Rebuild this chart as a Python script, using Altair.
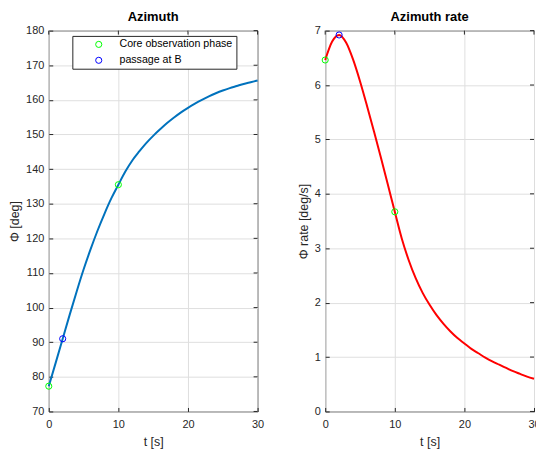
import altair as alt
import pandas as pd

# ---- data ----
t_s = list(range(31))
azimuth_deg = [77.3, 84.1, 91.0, 97.9, 104.6, 111.0, 116.8, 122.2, 127.1, 131.6,
               135.5, 139.3, 142.5, 145.1, 147.5, 149.6, 151.5, 153.3, 154.9, 156.4,
               157.7, 158.9, 160.0, 161.0, 161.9, 162.7, 163.4, 164.0, 164.6, 165.1,
               165.6]
rate_deg_s = [6.46, 6.80, 6.92, 6.78, 6.47, 6.07, 5.62, 5.15, 4.67, 4.17,
              3.67, 3.18, 2.78, 2.45, 2.18, 1.96, 1.77, 1.61, 1.47, 1.35,
              1.25, 1.15, 1.07, 0.99, 0.92, 0.86, 0.80, 0.74, 0.69, 0.64,
              0.60]

core_t = [0, 10]
core_az = [77.3, 135.5]
core_rate = [6.46, 3.67]
pass_t = [2]
pass_az = [91.0]
pass_rate = [6.92]

series_names = ["Core observation phase", "passage at B"]
series_colors = ["#00ff00", "#0000ff"]

x_ticks = [0, 10, 20, 30]
az_ticks = [70, 80, 90, 100, 110, 120, 130, 140, 150, 160, 170, 180]
rate_ticks = [0, 1, 2, 3, 4, 5, 6, 7]

curve = pd.DataFrame({"t": t_s, "az": azimuth_deg, "rate": rate_deg_s})
marks = pd.DataFrame({
    "t": core_t + pass_t,
    "az": core_az + pass_az,
    "rate": core_rate + pass_rate,
    "series": [series_names[0]] * len(core_t) + [series_names[1]] * len(pass_t),
})

FONT = "Liberation Sans"
DARK = "#262626"
GRID = "#dfdfdf"
W, H = 210, 383
TICK = 4


def panel(ycol, ydomain, yticks, ytitle, title, line_color, show_legend):
    xscale = alt.Scale(domain=[0, 30], nice=False)
    yscale = alt.Scale(domain=ydomain, nice=False, zero=False)
    x_axis = alt.Axis(orient="bottom", values=x_ticks, title="t [s]", grid=True,
                      domain=False, offset=-TICK, tickSize=TICK, labelPadding=7,
                      labelFlush=False, titlePadding=6, minExtent=0)
    y_axis = alt.Axis(orient="left", values=yticks, title=ytitle, grid=True,
                      domain=False, offset=-TICK, tickSize=TICK, labelPadding=5,
                      titlePadding=4, minExtent=0)
    if show_legend:
        legend = alt.Legend(
            orient="none", legendX=23.7, legendY=5.3, title=None,
            strokeColor=DARK, fillColor="white", padding=3.2,
            symbolType="circle", symbolSize=38, symbolStrokeWidth=1,
            symbolOffset=18, labelOffset=15.5,
            labelFont=FONT, labelFontSize=10.7, labelColor="black",
            rowPadding=4.0,
        )
    else:
        legend = None

    line = alt.Chart(curve).mark_line(
        color=line_color, strokeWidth=2, interpolate="monotone"
    ).encode(
        x=alt.X("t:Q", scale=xscale, axis=x_axis),
        y=alt.Y(f"{ycol}:Q", scale=yscale, axis=y_axis),
    )

    # inward ticks on the top and right edges (MATLAB box style)
    top_ticks = alt.Chart(pd.DataFrame({"t": x_ticks})).mark_rule(
        color=DARK, strokeWidth=1
    ).encode(
        x=alt.X("t:Q", scale=xscale, axis=x_axis),
        y=alt.value(0), y2=alt.value(TICK),
    )
    right_ticks = alt.Chart(pd.DataFrame({ycol: yticks})).mark_rule(
        color=DARK, strokeWidth=1
    ).encode(
        y=alt.Y(f"{ycol}:Q", scale=yscale, axis=y_axis),
        x=alt.value(W - TICK), x2=alt.value(W),
    )

    pts = alt.Chart(marks).mark_point(
        shape="circle", filled=False, size=38, strokeWidth=1, opacity=1
    ).encode(
        x=alt.X("t:Q", scale=xscale, axis=x_axis),
        y=alt.Y(f"{ycol}:Q", scale=yscale, axis=y_axis),
        stroke=alt.Stroke("series:N",
                          scale=alt.Scale(domain=series_names, range=series_colors),
                          legend=legend),
    )

    return alt.layer(line, top_ticks, right_ticks, pts).properties(
        width=W, height=H,
        title=alt.TitleParams(title, fontSize=13, fontWeight="bold", font=FONT,
                              color="black", offset=-9, baseline="alphabetic",
                              anchor="middle"),
    )


left = panel("az", [70, 180], az_ticks, "Φ [deg]", "Azimuth", "#0072BD", True)
right = panel("rate", [0, 7], rate_ticks, "Φ rate [deg/s]", "Azimuth rate", "#FF0000", False)

chart = alt.hconcat(left, right, spacing=32).resolve_legend(
    stroke="independent"
).properties(
    padding={"left": 0, "top": 0.5, "right": -5, "bottom": 0},
    background="white",
).configure_view(
    stroke=DARK, strokeWidth=1
).configure_axis(
    labelFont=FONT, labelFontSize=11, labelColor=DARK,
    titleFont=FONT, titleFontSize=12.5, titleColor=DARK, titleFontWeight="normal",
    tickColor=DARK, tickWidth=1, gridColor=GRID, gridWidth=1,
)

chart.save("out.html", embed_options={"renderer": "svg", "actions": False})
